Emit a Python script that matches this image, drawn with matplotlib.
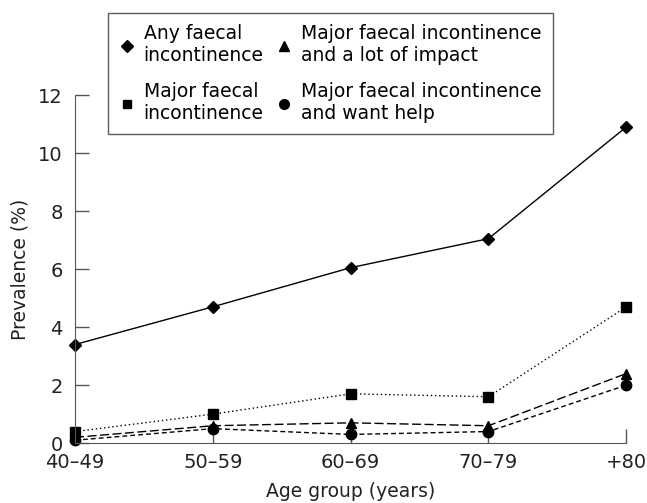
import matplotlib
matplotlib.use("Agg")
import matplotlib.pyplot as plt
from matplotlib.lines import Line2D

plt.rcParams["font.family"] = ["DejaVu Sans"]

# dados
age_groups = ["40\u201349", "50\u201359", "60\u201369", "70\u201379", "+80"]
any_fi = [3.4, 4.7, 6.05, 7.05, 10.9]
major_fi = [0.4, 1.0, 1.7, 1.6, 4.7]
major_impact = [0.2, 0.6, 0.7, 0.6, 2.4]
major_help = [0.1, 0.5, 0.3, 0.4, 2.0]

labels = ["Any faecal\nincontinence", "Major faecal\nincontinence",
          "Major faecal incontinence\nand a lot of impact",
          "Major faecal incontinence\nand want help"]

fig = plt.figure(figsize=(6.47, 5.03), dpi=100)
ax = fig.add_axes([0.116, 0.119, 0.852, 0.692])

x = list(range(len(age_groups)))
kw = dict(color="black", lw=1.0, clip_on=False)
ax.plot(x, any_fi, marker="D", ms=6.5, ls="-", **kw)
ax.plot(x, major_fi, marker="s", ms=6.5, ls=(0, (1, 2)), **kw)
ax.plot(x, major_impact, marker="^", ms=7.5, ls=(0, (6.5, 2.5)), **kw)
ax.plot(x, major_help, marker="o", ms=7.5, ls=(0, (3.5, 2.2)), **kw)

ax.set_xlim(0, 4)
ax.set_ylim(0, 12)
ax.set_xticks(x)
ax.set_xticklabels(age_groups)
ax.set_yticks([0, 2, 4, 6, 8, 10, 12])
ax.tick_params(direction="in", length=10, width=1, labelsize=14,
               colors="#555555", labelcolor="#222222")
ax.tick_params(axis="x", pad=7)
ax.tick_params(axis="y", pad=9)
for s in ["top", "right"]:
    ax.spines[s].set_visible(False)
for s in ["left", "bottom"]:
    ax.spines[s].set_color("#555555")
ax.set_xlabel("Age group (years)", fontsize=13.5, labelpad=7, color="#222222")
ax.set_ylabel("Prevalence (%)", fontsize=13.5, labelpad=6, color="#222222")

handles = [Line2D([], [], color="black", marker=m, ls="none", ms=ms)
           for m, ms in [("D", 6), ("s", 6), ("^", 7), ("o", 7)]]
leg = fig.legend(handles, labels, ncol=2, loc="upper left",
                 bbox_to_anchor=(108 / 647, 1 - 13 / 503), fontsize=13.5,
                 frameon=True, fancybox=False, edgecolor="#333333",
                 handlelength=0.8, handletextpad=0.5, columnspacing=0.7,
                 labelspacing=0.9, borderpad=0.6, borderaxespad=0)
leg.get_frame().set_linewidth(1.0)

fig.savefig("out.png", dpi=100)
